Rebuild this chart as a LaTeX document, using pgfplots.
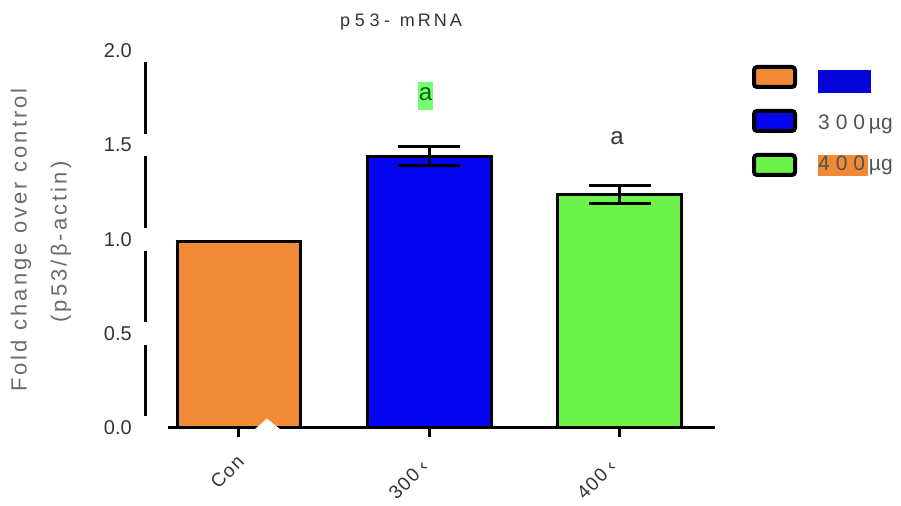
\documentclass[border=0pt]{standalone}
\usepackage{fontspec}
\setmainfont{Liberation Sans}
\newfontfamily\spfont[LetterSpace=14]{Liberation Sans}
\newfontfamily\spfontb[LetterSpace=8]{Liberation Sans}
\newfontfamily\ttlfont[LetterSpace=26]{Liberation Sans}
\newfontfamily\legfont[LetterSpace=28]{Liberation Sans}
\usepackage{pgfplots}
\pgfplotsset{compat=1.18}
\definecolor{cOr}{HTML}{F08A35}
\definecolor{cBl}{HTML}{0505F0}
\definecolor{cGr}{HTML}{6CF24A}
\definecolor{cTxt}{HTML}{333333}
\definecolor{cLab}{HTML}{6B6B6B}
\begin{document}
\begin{tikzpicture}[x=1bp,y=1bp]
\path[use as bounding box] (0,0) rectangle (901,506);
\begin{axis}[
  at={(145bp,78.5bp)}, anchor=south west,
  scale only axis, width=570bp, height=376.5bp,
  xmin=-0.4934, xmax=2.5, ymin=0, ymax=2,
  clip=false,
  axis line style={draw=none},
  xtick={0,1,2}, xticklabels={},
  xtick pos=bottom, ytick pos=left,
  tick align=outside,
  major tick length=10bp,
  xtick style={line width=3bp, black},
  ytick={0,0.5,1,1.5,2},
  ytick style={draw=none},
  yticklabel style={font=\fontsize{20bp}{24bp}\selectfont, text=cTxt, inner sep=0pt, xshift=-3bp},
  /pgf/number format/.cd, fixed, fixed zerofill, precision=1, assume math mode=true,
]
\addplot[ybar, bar width=0.65, bar shift=0pt, fill=cOr, draw=black, line width=3bp] coordinates {(0,0.99)};
\addplot[ybar, bar width=0.65, bar shift=0pt, fill=cBl, draw=black, line width=3bp,
  error bars/.cd, y dir=both, y explicit,
  error bar style={line width=3bp, black},
  error mark options={rotate=90, mark size=31bp, line width=3bp, black}]
  coordinates {(1,1.442) +- (0,0.048)};
\addplot[ybar, bar width=0.65, bar shift=0pt, fill=cGr, draw=black, line width=3bp,
  error bars/.cd, y dir=both, y explicit,
  error bar style={line width=3bp, black},
  error mark options={rotate=90, mark size=31bp, line width=3bp, black}]
  coordinates {(2,1.238) +- (0,0.05)};
% axis lines
\draw[line width=3bp, black] (axis cs:-0.373,0) -- (axis cs:2.5,0);
\draw[line width=3bp, black] (axis cs:-0.4934,0.06) -- (axis cs:-0.4934,0.44);
\draw[line width=3bp, black] (axis cs:-0.4934,0.56) -- (axis cs:-0.4934,0.94);
\draw[line width=3bp, black] (axis cs:-0.4934,1.06) -- (axis cs:-0.4934,1.44);
\draw[line width=3bp, black] (axis cs:-0.4934,1.56) -- (axis cs:-0.4934,1.94);
% artifact
\fill[white] (axis cs:0.08,-0.012) -- (axis cs:0.147,0.048) -- (axis cs:0.22,-0.012) -- cycle;
\end{axis}
% title
\node[font=\ttlfont\fontsize{18bp}{20bp}\selectfont, text=cTxt] at (401,484) {p53- m\,R\,N\,A};
% y label
\node[rotate=90, font=\spfont\fontsize{22bp}{24bp}\selectfont, text=cLab] at (21,266) {Fold change over control};
\node[rotate=90, font=\spfont\fontsize{22bp}{24bp}\selectfont, text=cLab] at (61,264) {(p53/β-actin)};
% x tick labels
\node[rotate=45, anchor=east, font=\spfontb\fontsize{19bp}{20bp}\selectfont, text=cTxt] at (243,50) {Con};
\node[rotate=45, anchor=east, font=\spfontb\fontsize{19bp}{20bp}\selectfont, text=cTxt] at (427,45) {300\hspace{5bp}‹};
\node[rotate=45, anchor=east, font=\spfontb\fontsize{19bp}{20bp}\selectfont, text=cTxt] at (615,45) {400\hspace{5bp}‹};
% annotations
\fill[green!55!white] (418,396) rectangle (433,424);
\node[font=\fontsize{24bp}{26bp}\selectfont, text=green!40!black] at (425.5,412) {a};
\node[font=\fontsize{24bp}{26bp}\selectfont, text=cTxt] at (617,368) {a};
% legend
\draw[line width=4bp, black, fill=cOr, rounded corners=3bp] (754,419) rectangle (795,439);
\draw[line width=4bp, black, fill=cBl, rounded corners=3bp] (754,375) rectangle (795,395);
\draw[line width=4bp, black, fill=cGr, rounded corners=3bp] (754,331) rectangle (795,351);
\fill[cBl!90!black] (818,413) rectangle (871,436);
\node[anchor=west, inner sep=0pt, font=\fontsize{21bp}{24bp}\selectfont, text=cTxt!85!white] at (818,382) {{\legfont 300}\hspace{4bp}µg};
\fill[cOr] (818,330) rectangle (868,351);
\node[anchor=west, inner sep=0pt, font=\fontsize{21bp}{24bp}\selectfont, text=cTxt!85!white] at (818,341) {{\legfont 400}\hspace{4bp}µg};
\end{tikzpicture}
\end{document}
